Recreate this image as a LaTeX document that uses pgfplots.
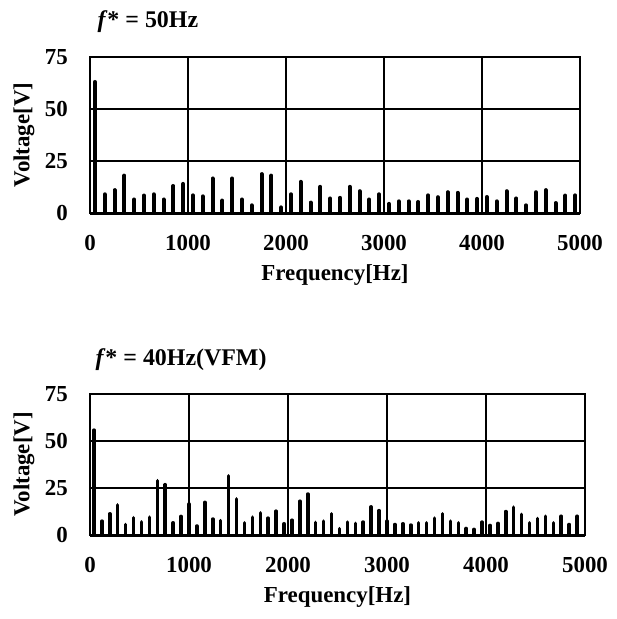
\documentclass[border=0pt]{standalone}
\usepackage{fontspec}
\setmainfont{Liberation Serif}
\usepackage{pgfplots}
\pgfplotsset{compat=1.18}

% spectrum at f* = 50Hz (odd harmonics, 100 Hz apart)
\pgfplotstableread{
f v
50 63
150 9
250 11
350 18
450 6.5
550 8.4
650 9
750 6.5
850 13
950 14
1050 8.5
1150 8
1250 16.6
1350 6
1450 16.6
1550 6.5
1650 3.7
1750 18.7
1850 18
1950 2.7
2050 9
2150 15
2250 5
2350 12.6
2450 7
2550 7.3
2650 12.6
2750 10.5
2850 6.5
2950 9
3050 4.4
3150 5.6
3250 5.6
3350 5.3
3450 8.5
3550 7.6
3650 10
3750 9.7
3850 6.5
3950 6.8
4050 7.7
4150 5.6
4250 10.5
4350 7
4450 3.7
4550 10
4650 11
4750 4.8
4850 8.4
4950 8.5
}\specA

% spectrum at f* = 40Hz (VFM), 80 Hz apart
\pgfplotstableread{
f v
40 55.8
120 7.4
200 11.3
280 16
360 5.6
440 9.2
520 7
600 9.5
680 28.9
760 26.8
840 6.5
920 9.9
1000 16.5
1080 4.8
1160 17.4
1240 8.5
1320 7.7
1400 31.5
1480 19.2
1560 6.5
1640 9.5
1720 11.8
1800 9
1880 12.7
1960 6
2040 7.9
2120 18
2200 21.8
2280 6.7
2360 7.4
2440 11.3
2520 3.4
2600 6.9
2680 6.2
2760 6.9
2840 15
2920 13
3000 7.4
3080 5.6
3160 6
3240 5.3
3320 6.5
3400 6.5
3480 9
3560 11.3
3640 7.4
3720 6.5
3800 3.5
3880 3
3960 6.9
4040 5.1
4120 6.2
4200 12.5
4280 14.8
4360 11
4440 6.5
4520 8.8
4600 10
4680 6.5
4760 10
4840 5.6
4920 10
}\specB

\pgfplotsset{
  spec/.style={
    scale only axis,
    anchor=south west,
    xmin=0, xmax=5000,
    ymin=0, ymax=75,
    xtick={0,1000,2000,3000,4000,5000},
    ytick={0,25,50,75},
    extra y ticks={0},
    extra y tick labels={},
    extra y tick style={grid=major, major grid style={black, line width=3bp}},
    grid=major,
    major grid style={black, line width=1.2bp},
    axis line style={black, line width=1.2bp},
    major tick length=0pt,
    scaled x ticks=false,
    /pgf/number format/assume math mode=true,
    /pgf/number format/1000 sep={},
    tick label style={font=\fontsize{23}{27}\selectfont\bfseries, inner sep=0pt},
    xticklabel style={yshift=-22bp},
    yticklabel style={xshift=-22bp},
    label style={font=\fontsize{23}{27}\selectfont\bfseries},
    xlabel={Frequency[Hz]},
    ylabel={Voltage[V]},
    xlabel style={at={(axis description cs:0.5,0)}, anchor=center, yshift=-62bp},
    ylabel style={at={(axis description cs:0,0.5)}, anchor=center, rotate=0, yshift=66bp},
  }
}

\begin{document}
\begin{tikzpicture}[x=1bp,y=1bp]
\useasboundingbox (0,0) rectangle (617,-619);

\node[anchor=west, font=\fontsize{24}{28}\selectfont\bfseries] at (94,-22)
  {\textit{f}* = 50Hz};
\begin{axis}[spec, at={(90bp,-213bp)}, width=490bp, height=156bp]
  \addplot[ycomb, black, line width=4bp, line cap=round] table[x=f, y=v] {\specA};
\end{axis}

\node[anchor=west, font=\fontsize{24}{28}\selectfont\bfseries] at (92,-360)
  {\textit{f}* = 40Hz(VFM)};
\begin{axis}[spec, at={(90bp,-535bp)}, width=495bp, height=141bp]
  \addplot[ycomb, black, line width=3.5bp, line cap=round] table[x=f, y=v] {\specB};
\end{axis}
\end{tikzpicture}
\end{document}
